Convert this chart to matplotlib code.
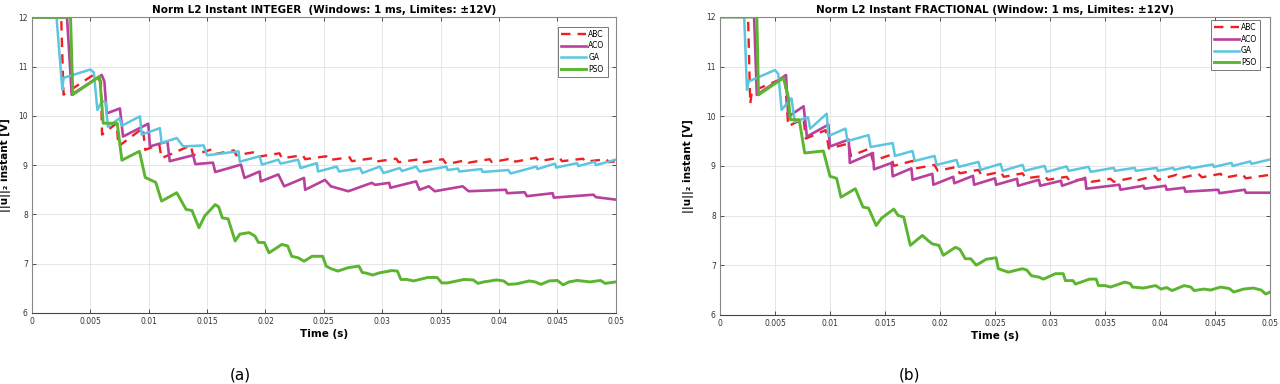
import numpy as np
import matplotlib.pyplot as plt

# curve break points: (time in ms, ||u||2 in V)
abc_int = [(0, 12), (2.5, 12), (2.7, 10.43), (5.25, 10.83), (5.9, 10.7), (6.0, 9.62), (7.25, 9.85),
           (7.4, 9.38), (9.5, 9.75), (9.7, 9.31), (10.9, 9.42), (11.1, 9.14), (13.6, 9.4), (13.8, 9.2),
           (15.4, 9.32), (15.6, 9.22), (17.3, 9.3), (17.5, 9.2), (19.2, 9.27), (19.4, 9.17), (21.2, 9.24),
           (21.4, 9.14), (23.2, 9.2), (23.4, 9.12), (25.2, 9.18), (25.4, 9.1), (27.2, 9.16), (27.4, 9.08),
           (29.2, 9.14), (29.4, 9.07), (31.2, 9.13), (31.4, 9.06), (33.2, 9.12), (33.4, 9.05), (35.2, 9.12),
           (35.5, 9.02), (37.2, 9.1), (37.4, 9.05), (39.2, 9.12), (39.4, 9.06), (41.2, 9.14), (41.4, 9.07),
           (43.2, 9.15), (43.4, 9.08), (45.2, 9.15), (45.4, 9.08), (47.2, 9.13), (47.4, 9.07), (49.2, 9.12),
           (49.4, 9.06), (50, 9.08)]
aco_int = [(0, 12), (3.0, 12), (3.4, 10.43), (5.97, 10.83), (6.2, 10.7), (6.4, 10.05), (7.53, 10.15),
           (7.8, 9.58), (9.96, 9.84), (10.1, 9.38), (11.6, 9.48), (11.8, 9.08), (13.8, 9.2), (14.0, 9.02),
           (15.5, 9.05), (15.7, 8.86), (17.9, 9.01), (18.2, 8.74), (19.5, 8.87), (19.6, 8.67), (21.1, 8.81),
           (21.6, 8.57), (23.3, 8.74), (23.4, 8.5), (25.1, 8.7), (25.6, 8.57), (27.1, 8.47), (29.1, 8.64),
           (29.4, 8.6), (30.6, 8.64), (30.7, 8.54), (32.9, 8.67), (33.2, 8.5), (34.0, 8.57), (34.5, 8.47),
           (36.9, 8.57), (37.4, 8.47), (40.6, 8.5), (40.7, 8.43), (42.2, 8.45), (42.4, 8.37), (44.6, 8.43),
           (44.7, 8.34), (48.1, 8.4), (48.3, 8.35), (50, 8.3)]
ga_int = [(0, 12), (2.1, 12), (2.6, 10.53), (2.7, 10.77), (5.0, 10.94), (5.3, 10.88), (5.6, 10.12),
          (6.0, 10.3), (6.3, 10.28), (6.5, 9.78), (7.5, 9.95), (7.7, 9.8), (9.25, 9.99), (9.4, 9.62),
          (10.96, 9.75), (11.1, 9.45), (12.4, 9.55), (12.95, 9.38), (14.7, 9.4), (15.0, 9.2), (17.7, 9.28),
          (17.8, 9.07), (19.5, 9.18), (19.7, 9.01), (21.1, 9.11), (21.3, 9.03), (22.8, 9.11), (23.0, 8.94),
          (24.4, 9.04), (24.5, 8.87), (26.1, 8.97), (26.3, 8.87), (28.1, 8.94), (28.3, 8.84), (29.8, 8.97),
          (30.1, 8.84), (31.5, 8.94), (31.7, 8.88), (32.9, 8.97), (33.2, 8.87), (35.5, 8.97), (35.6, 8.9),
          (36.5, 8.93), (36.6, 8.87), (38.5, 8.92), (38.6, 8.86), (40.8, 8.9), (41.0, 8.83), (43.2, 8.97),
          (43.3, 8.92), (44.8, 9.03), (44.9, 8.95), (46.7, 9.04), (46.8, 8.98), (48.2, 9.07), (48.3, 9.0),
          (50, 9.11)]
pso_int = [(0, 12), (3.3, 12), (3.5, 10.43), (5.8, 10.8), (6.1, 9.85), (7.3, 9.85), (7.7, 9.1), (9.2, 9.28),
           (9.7, 8.75), (10.6, 8.65), (11.1, 8.27), (12.4, 8.44), (13.2, 8.1), (13.7, 8.08), (14.3, 7.73),
           (14.8, 7.97), (15.7, 8.2), (16.0, 8.15), (16.3, 7.93), (16.8, 7.91), (17.4, 7.46), (17.8, 7.6),
           (18.6, 7.63), (19.1, 7.56), (19.4, 7.43), (19.9, 7.43), (20.3, 7.22), (21.4, 7.39), (21.9, 7.36),
           (22.25, 7.15), (22.8, 7.12), (23.3, 7.05), (24.0, 7.15), (24.9, 7.15), (25.2, 6.95), (25.6, 6.9),
           (26.2, 6.85), (27.1, 6.92), (28.0, 6.95), (28.3, 6.82), (28.6, 6.81), (29.2, 6.77), (29.7, 6.81),
           (30.8, 6.86), (31.3, 6.85), (31.6, 6.68), (32.1, 6.68), (32.7, 6.65), (33.9, 6.72), (34.7, 6.72),
           (35.1, 6.61), (35.6, 6.61), (37.0, 6.68), (37.8, 6.67), (38.2, 6.6), (38.7, 6.63), (39.8, 6.67),
           (40.4, 6.65), (40.8, 6.58), (41.5, 6.59), (42.6, 6.65), (43.1, 6.63), (43.6, 6.58), (44.3, 6.65),
           (45.0, 6.66), (45.5, 6.57), (46.0, 6.63), (46.7, 6.66), (47.8, 6.63), (48.7, 6.66), (49.1, 6.6),
           (50, 6.63)]

abc_frac = [(0, 12), (2.55, 12), (2.75, 10.25), (2.9, 10.5), (5.9, 10.78), (6.2, 9.8), (7.6, 9.95),
            (7.8, 9.55), (9.6, 9.72), (9.9, 9.35), (11.7, 9.45), (11.9, 9.2), (13.6, 9.35), (13.9, 9.1),
            (15.5, 9.22), (15.8, 9.0), (17.5, 9.1), (17.8, 8.95), (19.5, 9.02), (19.8, 8.9), (21.5, 8.98),
            (21.8, 8.85), (23.5, 8.92), (23.8, 8.8), (25.5, 8.88), (25.8, 8.78), (27.5, 8.85), (27.8, 8.75),
            (29.5, 8.8), (29.8, 8.72), (31.5, 8.78), (31.8, 8.7), (33.5, 8.74), (33.8, 8.68), (35.5, 8.74),
            (35.8, 8.68), (37.5, 8.76), (37.8, 8.7), (39.5, 8.8), (39.8, 8.72), (41.5, 8.82), (41.8, 8.75),
            (43.5, 8.84), (43.8, 8.77), (45.5, 8.84), (45.8, 8.76), (47.5, 8.83), (47.8, 8.75), (50, 8.82)]
aco_frac = [(0, 12), (3.1, 12), (3.35, 10.43), (6.0, 10.83), (6.2, 9.99), (7.6, 10.2), (7.9, 9.59),
            (9.85, 9.83), (10.0, 9.39), (11.7, 9.53), (11.8, 9.06), (13.9, 9.26), (14.0, 8.93), (15.6, 9.06),
            (15.7, 8.79), (17.4, 8.95), (17.5, 8.72), (19.3, 8.84), (19.4, 8.62), (21.2, 8.78), (21.3, 8.65),
            (23.0, 8.8), (23.1, 8.62), (25.0, 8.75), (25.1, 8.62), (27.0, 8.74), (27.1, 8.6), (29.0, 8.72),
            (29.1, 8.6), (31.0, 8.7), (31.1, 8.6), (33.2, 8.76), (33.3, 8.54), (36.3, 8.62), (36.4, 8.52),
            (38.5, 8.6), (38.6, 8.54), (40.5, 8.6), (40.6, 8.52), (42.2, 8.56), (42.3, 8.48), (45.3, 8.52),
            (45.4, 8.45), (47.7, 8.52), (47.8, 8.46), (50, 8.46)]
ga_frac = [(0, 12), (2.2, 12), (2.45, 10.53), (2.6, 10.7), (5.0, 10.93), (5.3, 10.85), (5.6, 10.13),
           (6.5, 10.36), (6.8, 9.89), (8.0, 9.98), (8.2, 9.75), (9.7, 10.05), (9.85, 9.6), (11.4, 9.75),
           (11.6, 9.5), (13.5, 9.62), (13.7, 9.38), (15.7, 9.46), (15.9, 9.2), (17.5, 9.3), (17.7, 9.1),
           (19.5, 9.2), (19.7, 9.02), (21.5, 9.12), (21.7, 8.98), (23.5, 9.08), (23.7, 8.92), (25.5, 9.04),
           (25.7, 8.9), (27.5, 9.02), (27.7, 8.9), (29.5, 9.0), (29.7, 8.88), (31.5, 8.99), (31.7, 8.9),
           (33.5, 8.98), (33.7, 8.88), (35.8, 8.96), (35.9, 8.9), (37.7, 8.96), (37.8, 8.9), (39.7, 8.96),
           (39.8, 8.9), (41.2, 8.96), (41.3, 8.92), (42.7, 8.99), (42.8, 8.95), (44.8, 9.03), (44.9, 8.98),
           (46.5, 9.06), (46.6, 9.0), (48.2, 9.09), (48.3, 9.04), (50, 9.13)]
pso_frac = [(0, 12), (3.35, 12), (3.5, 10.43), (5.76, 10.77), (6.2, 10.4), (6.4, 9.93), (7.2, 9.93),
            (7.7, 9.26), (9.4, 9.3), (10.0, 8.79), (10.6, 8.75), (11.0, 8.37), (12.3, 8.54), (13.0, 8.17),
            (13.5, 8.15), (14.2, 7.8), (14.7, 7.95), (15.8, 8.13), (16.2, 8.0), (16.7, 7.97), (17.3, 7.4),
            (18.4, 7.6), (18.9, 7.5), (19.3, 7.43), (19.9, 7.4), (20.3, 7.2), (21.4, 7.36), (21.8, 7.32),
            (22.3, 7.13), (22.8, 7.13), (23.3, 7.0), (24.2, 7.12), (25.1, 7.15), (25.3, 6.93), (26.2, 6.86),
            (27.5, 6.93), (27.9, 6.9), (28.3, 6.79), (29.0, 6.76), (29.4, 6.72), (30.5, 6.83), (31.2, 6.83),
            (31.4, 6.69), (32.1, 6.69), (32.3, 6.62), (33.6, 6.72), (34.2, 6.72), (34.4, 6.59), (35.0, 6.59),
            (35.5, 6.56), (36.8, 6.66), (37.3, 6.63), (37.5, 6.56), (38.5, 6.54), (39.6, 6.59), (40.1, 6.52),
            (40.6, 6.55), (41.1, 6.49), (42.2, 6.59), (42.8, 6.56), (43.1, 6.49), (44.0, 6.52), (44.6, 6.5),
            (45.5, 6.56), (46.3, 6.53), (46.7, 6.46), (47.6, 6.52), (48.5, 6.54), (49.2, 6.5), (49.6, 6.42),
            (50, 6.46)]

names = ["ABC", "ACO", "GA", "PSO"]
colors = ["#ee2024", "#b9409c", "#5cc6e0", "#5cb531"]
widths = [1.7, 1.9, 1.8, 2.1]
styles = [(0, (4, 3)), "-", "-", "-"]

x_ticks = [0, 0.005, 0.01, 0.015, 0.02, 0.025, 0.03, 0.035, 0.04, 0.045, 0.05]
x_labels = ["0", "0.005", "0.01", "0.015", "0.02", "0.025", "0.03", "0.035", "0.04", "0.045", "0.05"]
y_ticks = [6, 7, 8, 9, 10, 11, 12]

fig = plt.figure(figsize=(12.8, 3.84), dpi=100)
ax1 = fig.add_axes([0.025, 0.185, 0.456, 0.770])
ax2 = fig.add_axes([0.5625, 0.180, 0.4297, 0.776])


def draw(ax, curves, title, leg_anchor, ylab_x):
    for pts, name, c, w, s in zip(curves, names, colors, widths, styles):
        arr = np.array(pts)
        ax.plot(arr[:, 0] / 1000, arr[:, 1], color=c, lw=w, ls=s, label=name)
    ax.set_xlim(0, 0.05)
    ax.set_ylim(6, 12)
    ax.set_xticks(x_ticks)
    ax.set_xticklabels(x_labels)
    ax.set_yticks(y_ticks)
    ax.tick_params(direction="in", labelsize=5.5, length=3, width=0.6, top=True, right=True,
                   pad=3, colors="#333333")
    ax.grid(True, color="#e2e2e2", lw=0.6)
    for sp in ax.spines.values():
        sp.set_color("#888888")
        sp.set_linewidth(0.8)
    ax.spines["bottom"].set_color("#444444")
    ax.set_title(title, fontsize=7.5, fontweight="bold", pad=3)
    ax.set_xlabel("Time (s)", fontsize=7.5, fontweight="bold", labelpad=2)
    ax.set_ylabel("||u||\u2082 instant [V]", fontsize=7.5, fontweight="bold")
    ax.yaxis.set_label_coords(ylab_x, 0.5)
    leg = ax.legend(loc="upper right", bbox_to_anchor=leg_anchor, fontsize=5.5, frameon=True,
                    fancybox=False, handlelength=3.2, handletextpad=0.3, borderpad=0.4,
                    labelspacing=0.35, borderaxespad=0)
    leg.get_frame().set_edgecolor("#555555")
    leg.get_frame().set_linewidth(0.7)


draw(ax1, [abc_int, aco_int, ga_int, pso_int],
     "Norm L2 Instant INTEGER  (Windows: 1 ms, Limites: \u00b112V)", (0.986, 0.968), -0.036)
draw(ax2, [abc_frac, aco_frac, ga_frac, pso_frac],
     "Norm L2 Instant FRACTIONAL (Window: 1 ms, Limites: \u00b112V)", (0.982, 0.99), -0.047)

fig.text(240 / 1280, 1 - 375 / 384, "(a)", fontsize=11, ha="center", va="center")
fig.text(910 / 1280, 1 - 375 / 384, "(b)", fontsize=11, ha="center", va="center")

fig.savefig("out.png", dpi=100)
